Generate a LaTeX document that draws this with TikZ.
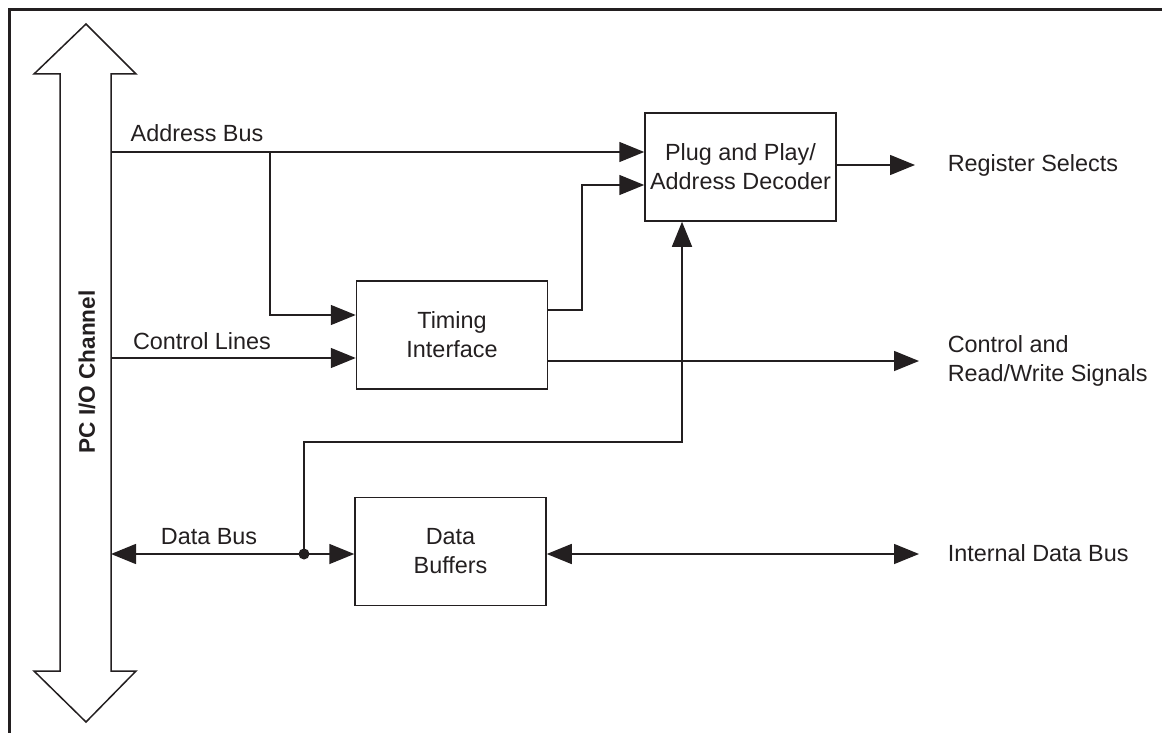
\documentclass[tikz,border=0pt]{standalone}
\usepackage{fontspec}
\setmainfont{Liberation Sans}
\usetikzlibrary{calc, arrows.meta, positioning}
\definecolor{ink}{HTML}{231F20}

\begin{document}
\begin{tikzpicture}[x=0.5pt, y=-0.5pt, line width=0.75pt, color=ink,
        font=\fontsize{11.7}{14.5}\selectfont,
        block/.style={draw, minimum width=95.5pt, minimum height=54pt, align=center, inner sep=0pt},
        sig/.style={-{Triangle[length=12.5pt, width=10pt]}},
        bidir/.style={{Triangle[length=12.5pt, width=10pt]}-{Triangle[length=12.5pt, width=10pt]}},
        lbl/.style={inner sep=0pt, align=left}]
        \useasboundingbox (0,0) rectangle (1162,733);

        % Frame
        \draw[line width=1.5pt] (9,740) -- (9,10) -- (1170,10);

        % PC I/O channel
        \draw (60,671) -- (60,74) -- (34,74) -- (86,24) -- (136,74) -- (111,74)
            -- (111,671) -- (136,671) -- (86,722) -- (34,671) -- cycle;
        \node[rotate=90, font=\fontsize{11.3}{13}\selectfont\bfseries] (chan) at (87,372) {PC I/O Channel};

        % Blocks
        \node[block] (pnp) at (740.5,167) {Plug and Play/\\Address Decoder};
        \node[block] (timing) at (452,335) {Timing\\Interface};
        \node[block] (dbuf) at (450.5,551.5) {Data\\Buffers};

        % Bus taps
        \coordinate (ab) at (111,152);
        \coordinate (abj) at (270,152);
        \coordinate (cl) at (111,358);
        \coordinate (db) at (111,554);
        \coordinate (dj) at (304,554);
        \coordinate (up) at (682,442);
        \coordinate (tp) at (582,185);

        % Outputs
        \coordinate (rs) at (915,165);
        \coordinate (crw) at (919,361);
        \coordinate (idb) at (919,554);

        % Bus labels
        \node (ablbl) at (197,133) {Address Bus};
        \node (cllbl) at (202,341) {Control Lines};
        \node (dblbl) at (209,537) {Data Bus};
        \node[lbl, anchor=west] (rslbl) at (947,165) {Register Selects};
        \node[lbl, anchor=west] (crlbl) at (947,361) {Control and\\Read/Write Signals};
        \node[lbl, anchor=west] (idblbl) at (947,553) {Internal Data Bus};

        % Address bus
        \draw[sig] (ab) -- (pnp.west |- ab);
        \draw[sig] (abj) |- ($(timing.west)+(0,-20)$);

        % Control lines
        \draw[sig] (cl) -- (timing.west |- cl);
        \draw[sig] ($(timing.east)+(0,-25)$) -| (tp) -- (pnp.west |- tp);
        \draw[sig] (timing.east |- crw) -- (crw);

        % Register selects
        \draw[sig] (pnp.east |- rs) -- (rs);

        % Data bus
        \draw[bidir] (db) -- (dbuf.west |- db);
        \draw[sig] (dj) |- (up) -- (up |- pnp.south);
        \fill (dj) circle (5.5);
        \draw[bidir] (dbuf.east |- idb) -- (idb);
    \end{tikzpicture}
\end{document}
